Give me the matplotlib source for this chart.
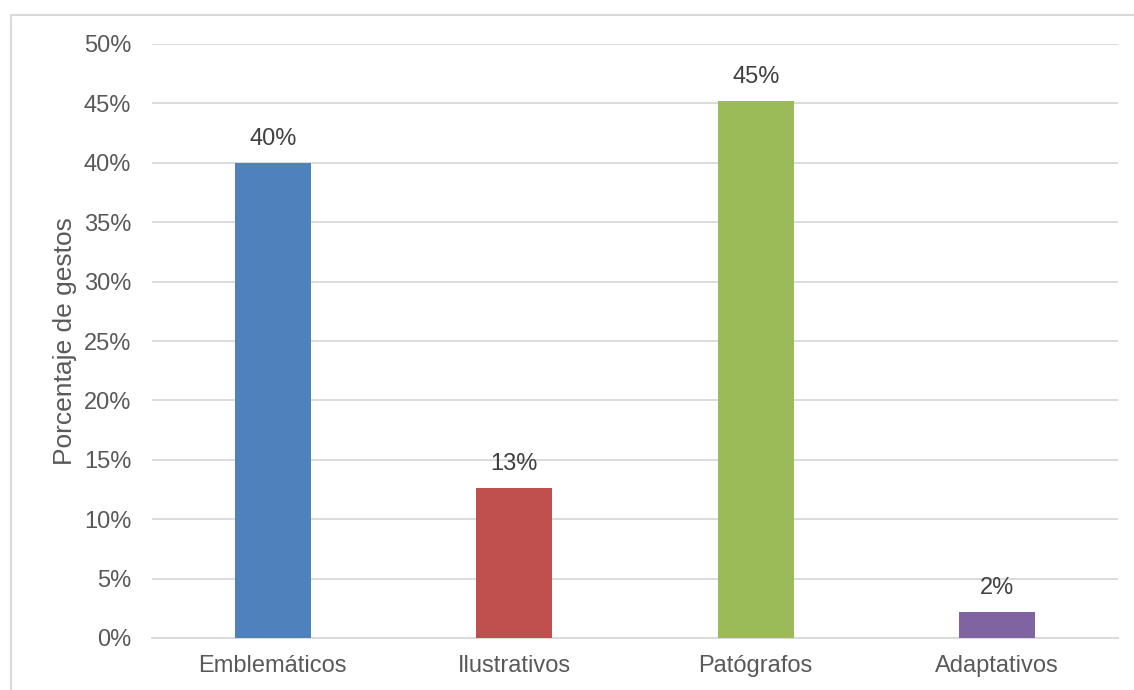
import matplotlib.pyplot as plt
import matplotlib.ticker as mtick
from matplotlib.patches import Rectangle

categorias = ['Emblemáticos', 'Ilustrativos', 'Patógrafos', 'Adaptativos']
porcentajes = [40.0, 12.6, 45.2, 2.2]
etiquetas = ['40%', '13%', '45%', '2%']
colores = ['#4f81bd', '#c0504d', '#9bbb59', '#8064a2']

plt.rcParams['font.family'] = ['Liberation Sans', 'DejaVu Sans']

fig = plt.figure(figsize=(11.34, 6.9), dpi=100)
ax = fig.add_axes([152 / 1134, 1 - 638 / 690, (1118 - 152) / 1134, (638 - 44) / 690])

# borde gris del cuadro del grafico
fig.patches.append(Rectangle((11 / 1134, -0.01), 1.0, 1 - 15 / 690 + 0.01,
                             transform=fig.transFigure, fill=False,
                             edgecolor='#d9d9d9', linewidth=1.5))

x = range(len(categorias))
ax.bar(x, porcentajes, width=0.314, color=colores, zorder=3)
for i, v in enumerate(porcentajes):
    ax.text(i, v + 1.1, etiquetas[i], ha='center', va='bottom',
            fontsize=17, color='#404040')

ax.set_xlim(-0.5, 3.5)
ax.set_ylim(0, 50)
ax.set_yticks(range(0, 51, 5))
ax.yaxis.set_major_formatter(mtick.PercentFormatter(decimals=0))
ax.set_xticks(list(x))
ax.set_xticklabels(categorias)
ax.tick_params(axis='both', length=0, labelsize=17, colors='#595959')
ax.tick_params(axis='y', pad=15)
ax.tick_params(axis='x', pad=12)
ax.grid(axis='y', color='#d9d9d9', linewidth=1.3, zorder=0)
for s in ['top', 'right', 'left']:
    ax.spines[s].set_visible(False)
ax.spines['bottom'].set_color('#d9d9d9')
ax.spines['bottom'].set_linewidth(1.3)
ax.set_ylabel('Porcentaje de gestos', fontsize=19, color='#595959', labelpad=5)

plt.savefig('out.png', dpi=100)
